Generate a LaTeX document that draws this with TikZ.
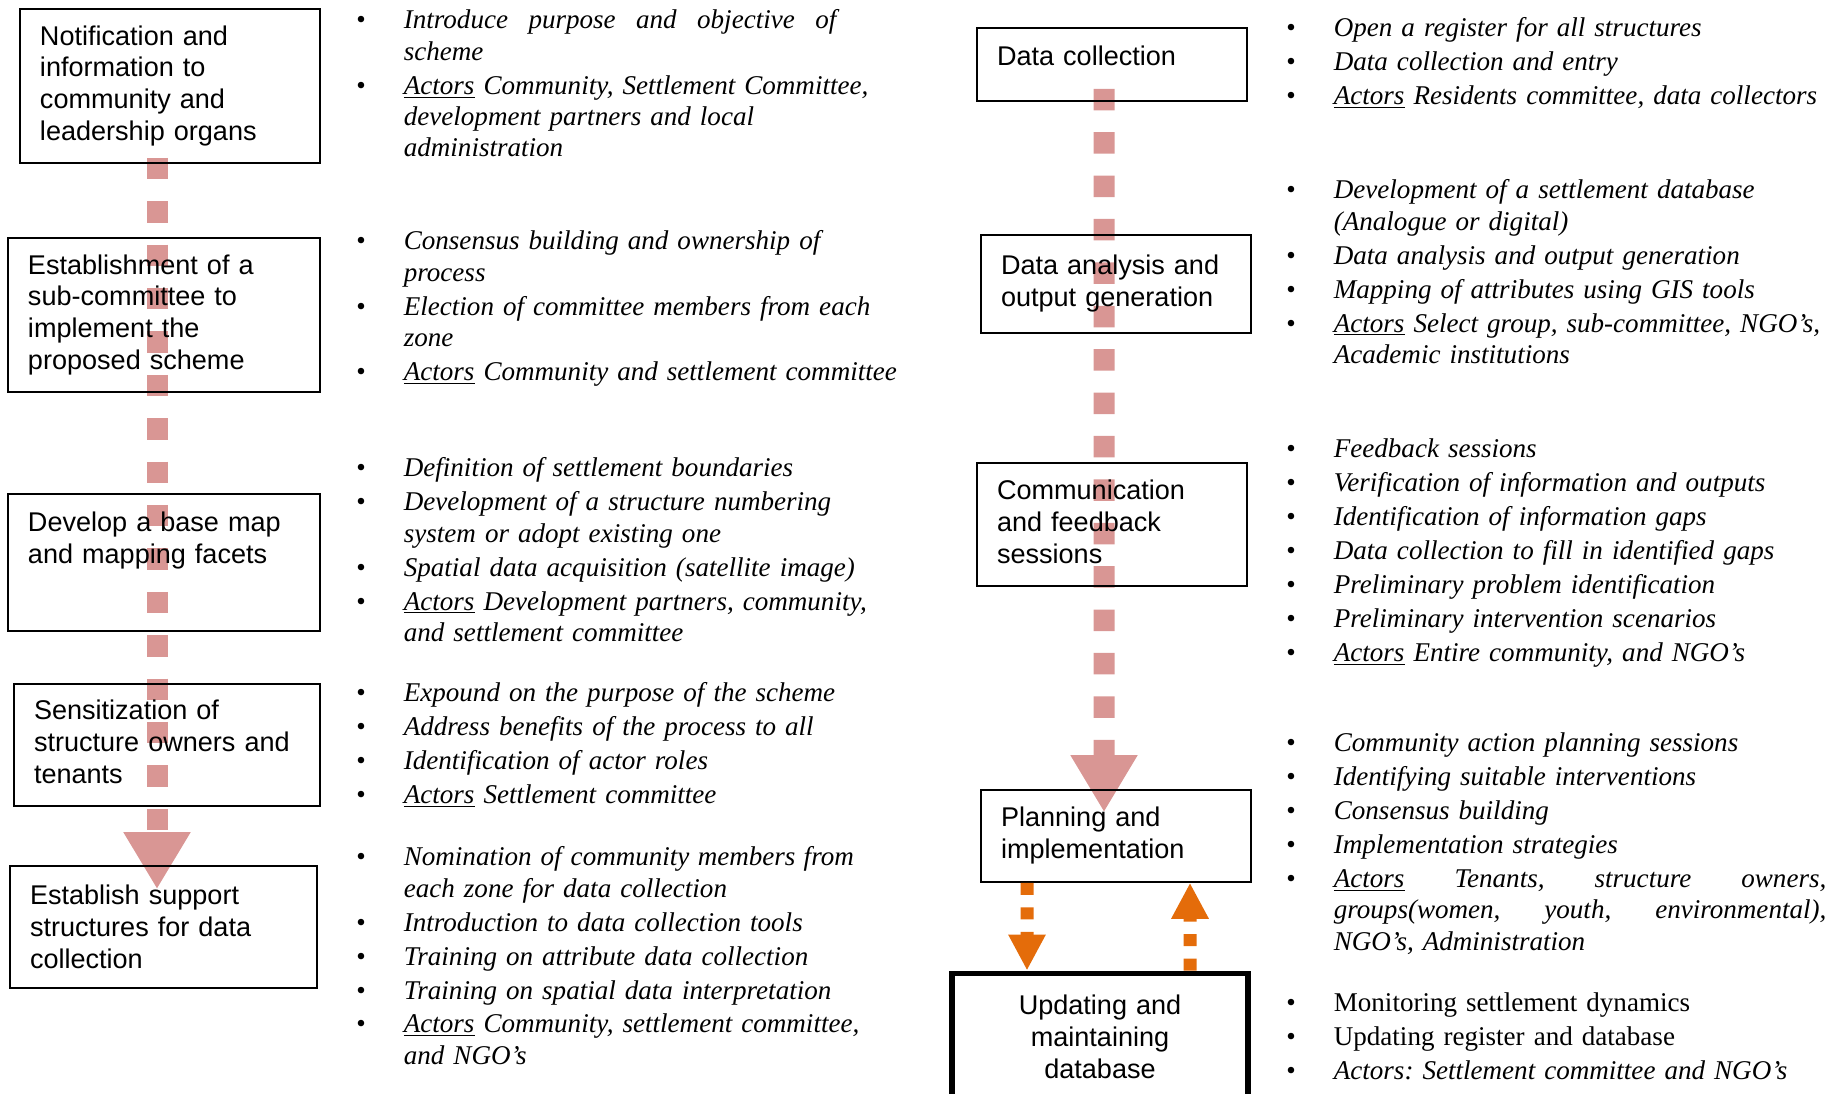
\documentclass[tikz,border=0pt]{standalone}
\usepackage{fontspec}
\setmainfont{Liberation Serif}
\setsansfont{Liberation Sans}
\usetikzlibrary{arrows.meta,backgrounds}
\definecolor{flowpink}{RGB}{217,150,148}
\definecolor{looporange}{RGB}{228,108,10}
\newcommand{\bitem}[1]{\setlength{\parskip}{1.5pt}\hangindent=0.95cm\hangafter=1%
  \noindent\hbox to 0.95cm{\upshape\textbullet\hfil}#1\par}
\newcommand{\lowpad}[1]{\rule[-#1]{0pt}{#1}}
\tikzset{
  stage/.style={draw=black, line width=0.9pt, align=left,
                inner xsep=0.4cm, inner ysep=0pt,
                font=\fontsize{15.4}{18.2}\selectfont\sffamily},
  finalstage/.style={stage, line width=3.4pt, align=center},
  acts/.style={anchor=base west, align=left, inner sep=0pt,
               font=\fontsize{15.4}{17.8}\selectfont\itshape\frenchspacing},
  mainflow/.style={draw=flowpink, line width=0.42cm,
                   dash pattern=on 0.43cm off 0.438cm,
                   -{Triangle[length=1.14cm,width=1.26cm]}},
  loopflow/.style={draw=looporange, line width=0.26cm,
                   dash pattern=on 0.24cm off 0.25cm,
                   -{Triangle[length=0.72cm,width=0.70cm]}},
}
\begin{document}
\begin{tikzpicture}[x=1cm,y=1cm]
  \path[use as bounding box] (0,0) rectangle (36.62,21.88);

  % Preparatory stages (left column).
  \node[stage, text width=5.20cm, minimum height=3.08cm] (s1) at (3.40,20.16)
    {Notification and\\information to\\community and\\leadership organs};
  \node[stage, text width=5.44cm, minimum height=3.08cm] (s2) at (3.28,15.58)
    {Establishment of a\\sub-committee to\\implement the\\proposed scheme};
  \node[stage, text width=5.44cm, minimum height=2.74cm] (s3) at (3.28,10.63)
    {Develop a base map\\and mapping facets\lowpad{1.0cm}};
  \node[stage, text width=5.32cm, minimum height=2.44cm] (s4) at (3.34,6.98)
    {Sensitization of\\structure owners and\\tenants\lowpad{0.12cm}};
  \node[stage, text width=5.34cm, minimum height=2.44cm] (s5) at (3.27,3.34)
    {Establish support\\structures for data\\collection};

  \node[acts, text width=11.5cm] (a1) at (7.12,21.30)
    {\bitem{\hbox to 8.65cm{Introduce\hfill purpose\hfill and\hfill objective\hfill of}\newline scheme}
     \bitem{\underline{Actors} Community, Settlement Committee,\newline development partners and local\newline administration}};
  \node[acts, text width=11.5cm] (a2) at (7.12,16.88)
    {\bitem{Consensus building and ownership of\newline process}
     \bitem{Election of committee members from each\newline zone}
     \bitem{\underline{Actors} Community and settlement committee}};
  \node[acts, text width=11.5cm] (a3) at (7.12,12.34)
    {\bitem{Definition of settlement boundaries}
     \bitem{Development of a structure numbering\newline system or adopt existing one}
     \bitem{Spatial data acquisition (satellite image)}
     \bitem{\underline{Actors} Development partners, community,\newline and settlement committee}};
  \node[acts, text width=11.5cm] (a4) at (7.12,7.84)
    {\bitem{Expound on the purpose of the scheme}
     \bitem{Address benefits of the process to all}
     \bitem{Identification of actor roles}
     \bitem{\underline{Actors} Settlement committee}};
  \node[acts, text width=11.5cm] (a5) at (7.12,4.56)
    {\bitem{\hbox to 9.0cm{Nomination of community\hfill members\hfill from}\newline each zone for data collection}
     \bitem{Introduction to data collection tools}
     \bitem{Training on attribute data collection}
     \bitem{Training on spatial data interpretation}
     \bitem{\underline{Actors} Community, settlement committee,\newline and NGO's}};

  % Data stages (right column).
  \node[stage, text width=4.60cm, minimum height=1.46cm] (r1) at (22.24,20.59)
    {Data collection\lowpad{0.37cm}};
  \node[stage, text width=4.60cm, minimum height=1.96cm] (r2) at (22.32,16.20)
    {Data analysis and\\output generation};
  \node[stage, text width=4.60cm, minimum height=2.46cm] (r3) at (22.24,11.39)
    {Communication\\and feedback\\sessions\lowpad{0.1cm}};
  \node[stage, text width=4.60cm, minimum height=1.84cm] (r4) at (22.32,5.16)
    {Planning and\\implementation};
  \node[finalstage, text width=5.12cm, minimum height=2.53cm] (r5) at (22.00,1.145)
    {Updating and\\maintaining\\database};

  \node[acts, text width=10.9cm] (b1) at (25.72,21.14)
    {\bitem{Open a register for all structures}
     \bitem{Data collection and entry}
     \bitem{\underline{Actors} Residents committee, data collectors}};
  \node[acts, text width=10.9cm] (b2) at (25.72,17.90)
    {\bitem{Development of a settlement database\newline (Analogue or digital)}
     \bitem{Data analysis and output generation}
     \bitem{Mapping of attributes using GIS tools}
     \bitem{\underline{Actors} Select group, sub-committee, NGO's,\newline Academic institutions}};
  \node[acts, text width=10.9cm] (b3) at (25.72,12.72)
    {\bitem{Feedback sessions}
     \bitem{Verification of information and outputs}
     \bitem{Identification of information gaps}
     \bitem{Data collection to fill in identified gaps}
     \bitem{Preliminary problem identification}
     \bitem{Preliminary intervention scenarios}
     \bitem{\underline{Actors} Entire community, and NGO's}};
  \node[acts, text width=10.9cm] (b4) at (25.72,6.84)
    {\bitem{Community action planning sessions}
     \bitem{Identifying suitable interventions}
     \bitem{Consensus building}
     \bitem{Implementation strategies}
     \bitem{\hbox to 9.85cm{\underline{Actors}\hfill Tenants,\hfill structure\hfill owners,}\newline
            \hbox to 9.85cm{groups(women,\hfill youth,\hfill environmental),}\newline NGO's, Administration}};
  \node[acts, text width=10.9cm] (b5) at (25.72,1.64)
    {\bitem{\textup{Monitoring settlement dynamics}}
     \bitem{\textup{Updating register and database}}
     \bitem{Actors: Settlement committee and NGO's}};

  % Flow through the stages, behind the box texts.
  \begin{scope}[on background layer]
    \draw[mainflow] ([xshift=-0.26cm,yshift=0.12cm]s1.south) -- ([xshift=-0.13cm,yshift=-0.48cm]s5.north);
    \draw[mainflow] ([xshift=-0.16cm,yshift=0.26cm]r1.south) -- ([xshift=-0.24cm,yshift=-0.46cm]r4.north);
  \end{scope}
  \draw[loopflow] ([xshift=-1.78cm]r4.south) -- ([xshift=-1.46cm]r5.north);
  \draw[loopflow] ([xshift=1.80cm]r5.north) -- ([xshift=1.48cm]r4.south);
\end{tikzpicture}
\end{document}
